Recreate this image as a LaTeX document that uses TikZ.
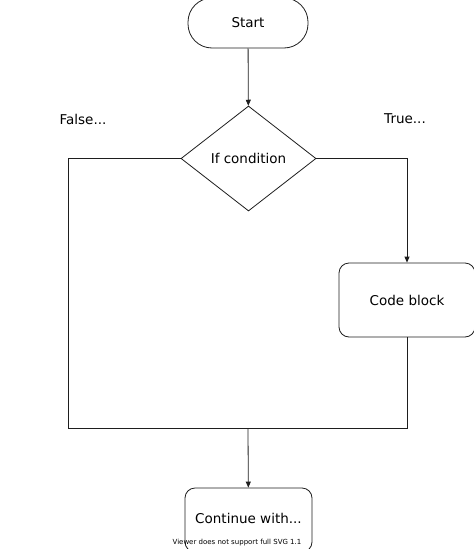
\documentclass[tikz,border=0pt]{standalone}
\usepackage{fontspec}
\setmainfont{DejaVu Sans}
\usepackage{xcolor}
\usetikzlibrary{shapes.geometric, arrows.meta, positioning}
\definecolor{flowline}{RGB}{30, 30, 30}
\definecolor{flowtext}{RGB}{0, 0, 0}
\tikzset{
    box/.style={
        rectangle, rounded corners=10pt, draw=flowline, line width=0.8pt,
        fill=white, text=flowtext, font=\fontsize{13.5}{15}\selectfont,
        align=center, inner sep=0pt
    },
    pillbox/.style={box, rounded corners=24pt, minimum width=120pt, minimum height=50pt},
    decision/.style={box, diamond, sharp corners, minimum width=135pt, minimum height=105pt},
    arrow/.style={-{Triangle[length=6pt, width=5pt]}, line width=0.8pt, color=flowline},
    line/.style={line width=0.8pt, color=flowline},
    label/.style={font=\fontsize{13.5}{15}\selectfont, text=flowtext},
}
\begin{document}
\begin{tikzpicture}[x=1pt, y=-1pt]
    \useasboundingbox (0,0) rectangle (474,549);

    \node[pillbox] (start) at (248,23) {Start};
    \node[decision] (cond) at (248.5,158.5) {If condition};
    \node[box, minimum width=136pt, minimum height=74pt] (code) at (407,300) {Code block};
    \node[box, minimum width=127pt, minimum height=64pt] (cont) at (248.5,520) {\raisebox{3pt}{Continue with...}};

    \node[label] (false) at (83,119) {False...};
    \node[label] (true) at (405,119) {True...};

    \coordinate (merge) at (248,428);
    \coordinate (lcorner) at (68,428);
    \coordinate (rcorner) at (407,428);

    \draw[arrow] (start) -- (cond);
    \draw[arrow] (cond.east) -| (code.north);
    \draw[line] (code.south) -- (rcorner) -- (lcorner) |- (cond.west);
    \draw[arrow] (merge) -- (cont);

    \node[font=\fontsize{7}{8}\selectfont, text=flowtext] (viewer) at (237,543) {Viewer does not support full SVG 1.1};
\end{tikzpicture}
\end{document}
